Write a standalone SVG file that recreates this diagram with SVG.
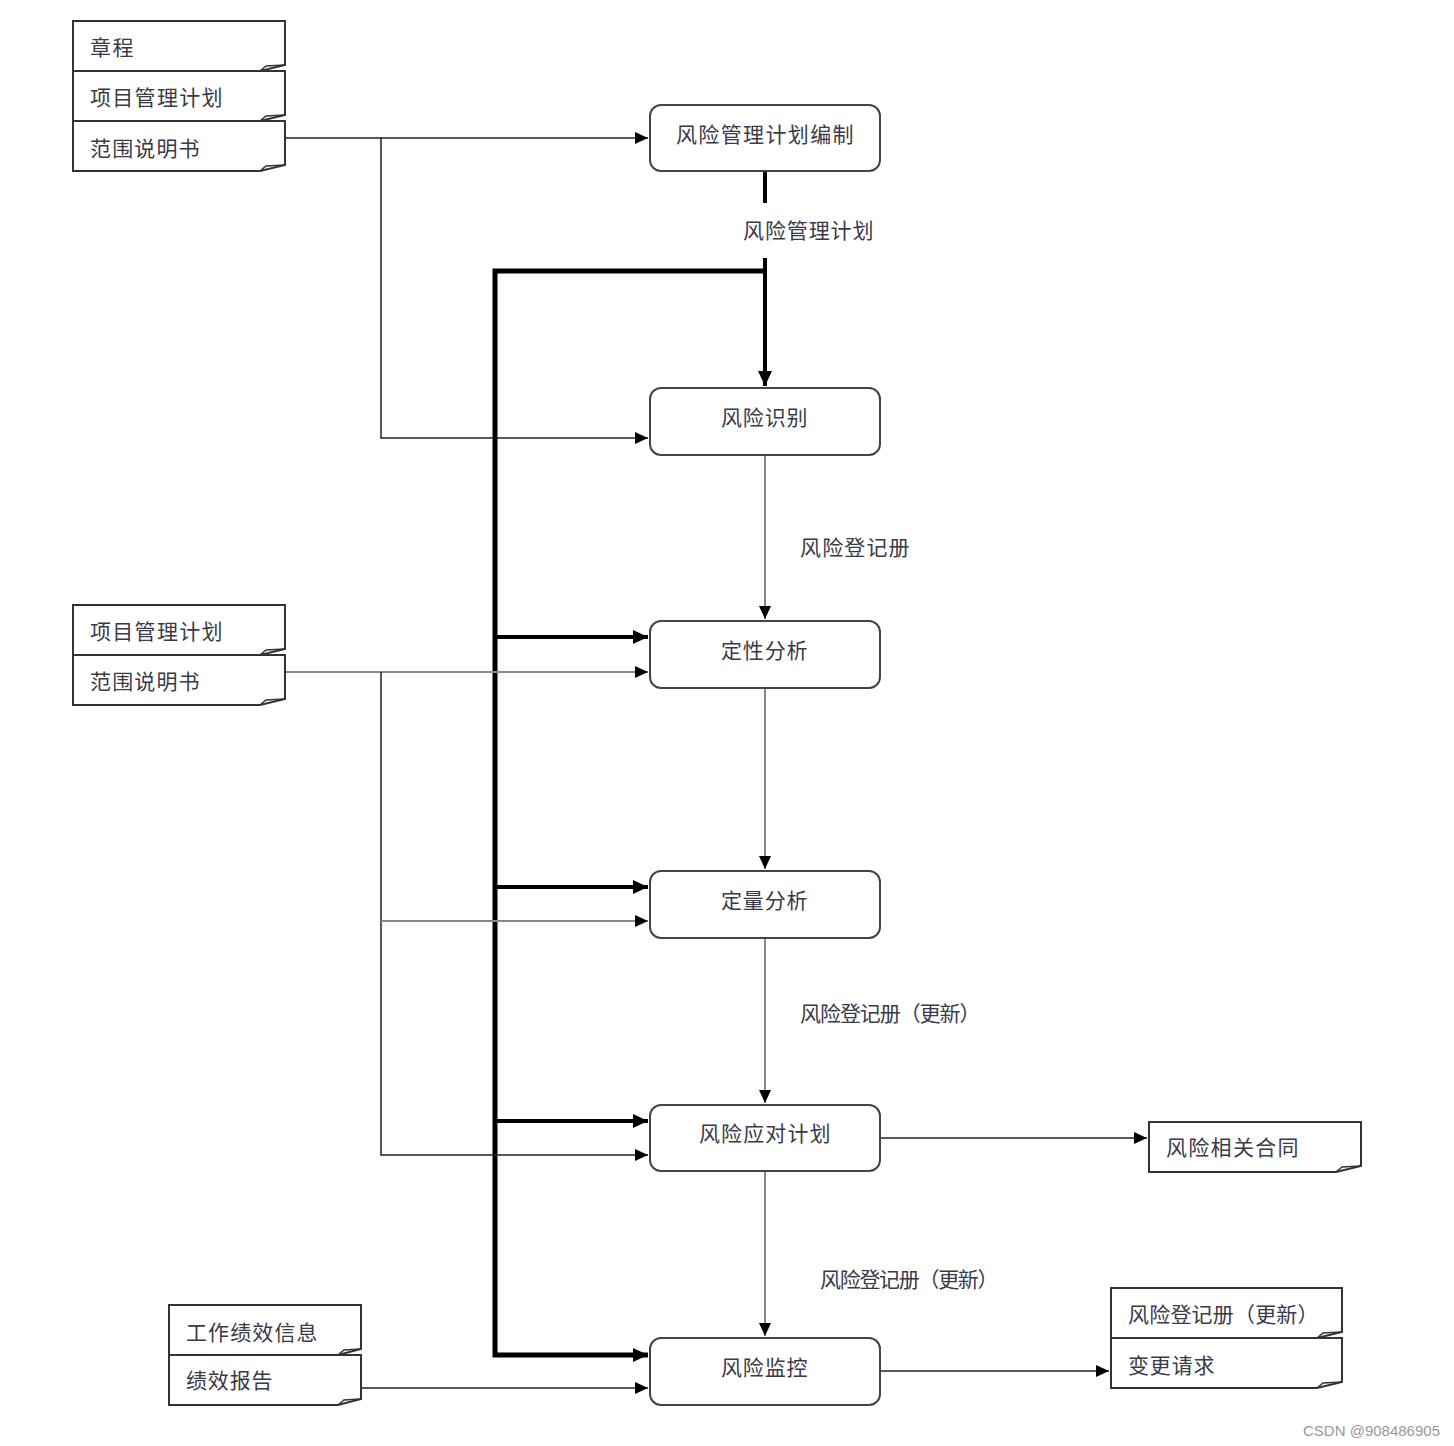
<svg xmlns="http://www.w3.org/2000/svg" width="1454" height="1446" viewBox="0 0 1454 1446">
<style>
text{font-family:"Noto Sans CJK SC","Noto Sans",sans-serif;font-size:21px;letter-spacing:1.5px;fill:#3a3a48}
.doc{fill:#fff;stroke:#333;stroke-width:2}
.fold{fill:none;stroke:#333;stroke-width:1.5}
.proc{fill:#fff;stroke:#444;stroke-width:2}
.thin{fill:none;stroke:#222;stroke-width:1.5}
.grey{fill:none;stroke:#888;stroke-width:2}
.thick{fill:none;stroke:#000;stroke-width:5}
.mid{fill:none;stroke:#000;stroke-width:4}
.ctr{text-anchor:middle}
</style>
<defs>
<marker id="a" markerUnits="userSpaceOnUse" markerWidth="14" markerHeight="12" refX="13" refY="6" orient="auto"><path d="M0,0L13,6L0,12Z" fill="#000"/></marker>
<marker id="b" markerUnits="userSpaceOnUse" markerWidth="16" markerHeight="14" refX="15" refY="7" orient="auto"><path d="M0,0L15,7L0,14Z" fill="#000"/></marker>
</defs>
<rect width="1454" height="1446" fill="#fff"/>

<g id="connectors">
<path class="thin" d="M285,138H381V438H648" marker-end="url(#a)"/>
<path class="thin" d="M381,138H648" marker-end="url(#a)"/>
<path class="mid" d="M765,171V203"/>
<path class="mid" d="M765,258V386" marker-end="url(#b)"/>
<path class="thick" d="M765,271H495V1355H648" marker-end="url(#b)"/>
<path class="mid" d="M495,637H648" marker-end="url(#b)"/>
<path class="mid" d="M495,887H648" marker-end="url(#b)"/>
<path class="mid" d="M495,1121H648" marker-end="url(#b)"/>
<path class="grey" d="M285,672H648" marker-end="url(#a)"/>
<path class="thin" d="M381,672V1155H648" marker-end="url(#a)"/>
<path class="grey" d="M381,921H648" marker-end="url(#a)"/>
<path class="thin" d="M361,1388H648" marker-end="url(#a)"/>
<path class="grey" d="M765,455V619" marker-end="url(#a)"/>
<path class="grey" d="M765,688V869" marker-end="url(#a)"/>
<path class="grey" d="M765,938V1103" marker-end="url(#a)"/>
<path class="grey" d="M765,1171V1336" marker-end="url(#a)"/>
<path class="thin" d="M880,1138H1147" marker-end="url(#a)"/>
<path class="thin" d="M880,1371H1109" marker-end="url(#a)"/>
<text x="743" y="238" textLength="132">风险管理计划</text>
<text x="800" y="555" textLength="111">风险登记册</text>
<text x="800" y="1021" textLength="182">风险登记册（更新）</text>
<text x="820" y="1287" textLength="180">风险登记册（更新）</text>
</g>

<g id="doc-charter">
<path class="doc" d="M73,21H285V65L260,71H73Z"/><path class="fold" d="M260,71L266,66L285,65"/>
<text x="90" y="55">章程</text>
</g>
<g id="doc-pmp1">
<path class="doc" d="M73,71H285V115L260,121H73Z"/><path class="fold" d="M260,121L266,116L285,115"/>
<text x="90" y="105" textLength="134">项目管理计划</text>
</g>
<g id="doc-scope1">
<path class="doc" d="M73,121H285V165L260,171H73Z"/><path class="fold" d="M260,171L266,166L285,165"/>
<text x="90" y="156" textLength="111">范围说明书</text>
</g>
<g id="doc-pmp2">
<path class="doc" d="M73,605H285V649L260,655H73Z"/><path class="fold" d="M260,655L266,650L285,649"/>
<text x="90" y="639" textLength="134">项目管理计划</text>
</g>
<g id="doc-scope2">
<path class="doc" d="M73,655H285V699L260,705H73Z"/><path class="fold" d="M260,705L266,700L285,699"/>
<text x="90" y="689" textLength="111">范围说明书</text>
</g>
<g id="doc-workperf">
<path class="doc" d="M169,1305H361V1349L338,1355H169Z"/><path class="fold" d="M338,1355L344,1350L361,1349"/>
<text x="186" y="1340" textLength="133">工作绩效信息</text>
</g>
<g id="doc-perfreport">
<path class="doc" d="M169,1355H361V1399L338,1405H169Z"/><path class="fold" d="M338,1405L344,1400L361,1399"/>
<text x="186" y="1388" textLength="88">绩效报告</text>
</g>
<g id="doc-contract">
<path class="doc" d="M1149,1122H1361V1166L1336,1172H1149Z"/><path class="fold" d="M1336,1172L1342,1167L1361,1166"/>
<text x="1166" y="1155" textLength="134">风险相关合同</text>
</g>
<g id="doc-register">
<path class="doc" d="M1111,1288H1342V1332L1317,1338H1111Z"/><path class="fold" d="M1317,1338L1323,1333L1342,1332"/>
<text x="1128" y="1322" textLength="192">风险登记册（更新）</text>
</g>
<g id="doc-change">
<path class="doc" d="M1111,1338H1342V1382L1317,1388H1111Z"/><path class="fold" d="M1317,1388L1323,1383L1342,1382"/>
<text x="1128" y="1373" textLength="88">变更请求</text>
</g>

<g id="p-plan"><rect class="proc" x="650" y="105" width="230" height="66" rx="11"/><text x="676" y="142" textLength="179">风险管理计划编制</text></g>
<g id="p-identify"><rect class="proc" x="650" y="388" width="230" height="67" rx="11"/><text x="721" y="425" textLength="88">风险识别</text></g>
<g id="p-qual"><rect class="proc" x="650" y="621" width="230" height="67" rx="11"/><text x="721" y="658" textLength="88">定性分析</text></g>
<g id="p-quant"><rect class="proc" x="650" y="871" width="230" height="67" rx="11"/><text x="721" y="908" textLength="88">定量分析</text></g>
<g id="p-response"><rect class="proc" x="650" y="1105" width="230" height="66" rx="11"/><text x="699" y="1141" textLength="133">风险应对计划</text></g>
<g id="p-monitor"><rect class="proc" x="650" y="1338" width="230" height="67" rx="11"/><text x="721" y="1375" textLength="88">风险监控</text></g>

<text x="1440" y="1436" style="font-family:'Liberation Sans',sans-serif;font-size:15px;letter-spacing:0;fill:#999;text-anchor:end">CSDN @908486905</text>
</svg>
